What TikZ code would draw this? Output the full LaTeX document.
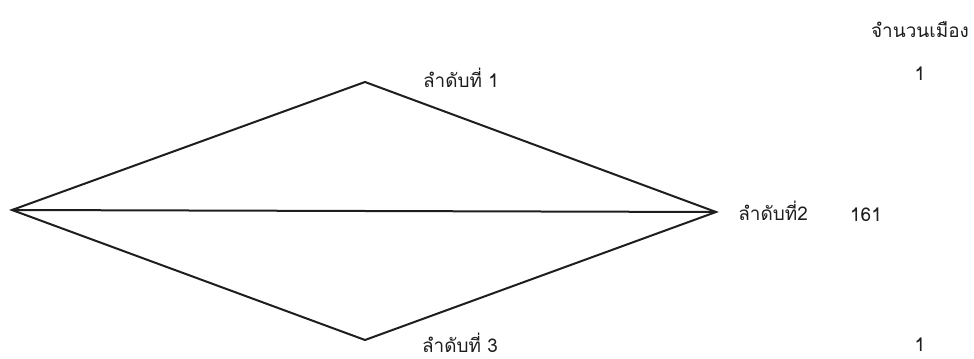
\documentclass[tikz,border=0pt]{standalone}
\usepackage{fontspec}
\newfontfamily\thaifont[Script=Thai]{Loma}
\definecolor{RankInk}{HTML}{1E1E1E}
\begin{document}
\begin{tikzpicture}[
    x=0.75pt, y=-0.75pt,
    font=\thaifont\fontsize{14.2}{16}\selectfont,
    edge/.style={
        draw=RankInk,
        line width=1.5pt,
        line join=miter
    },
    label/.style={
        text=RankInk,
        inner sep=0pt
    }
]
    \useasboundingbox (0,0) rectangle (974,359);

    \coordinate (start) at (12,210);
    \coordinate (first) at (365,82);
    \coordinate (second) at (716,212);
    \coordinate (third) at (365,340);

    \draw[edge] (start) -- (first) -- (second) -- (third) -- cycle;
    \draw[edge] (start) -- (second);

    \node[label] (rankone) at (461,78) {ลำดับที่ 1};
    \node[label, anchor=west] (ranktwo) at (738,211) {ลำดับที่2};
    \node[label] (rankthree) at (460,343) {ลำดับที่ 3};

    \node[label] (header) at (920,30) {จำนวนเมือง};
    \node[label] (countone) at (920,74) {1};
    \node[label] (counttwo) at (866,215) {161};
    \node[label] (countthree) at (920,345) {1};
\end{tikzpicture}
\end{document}
